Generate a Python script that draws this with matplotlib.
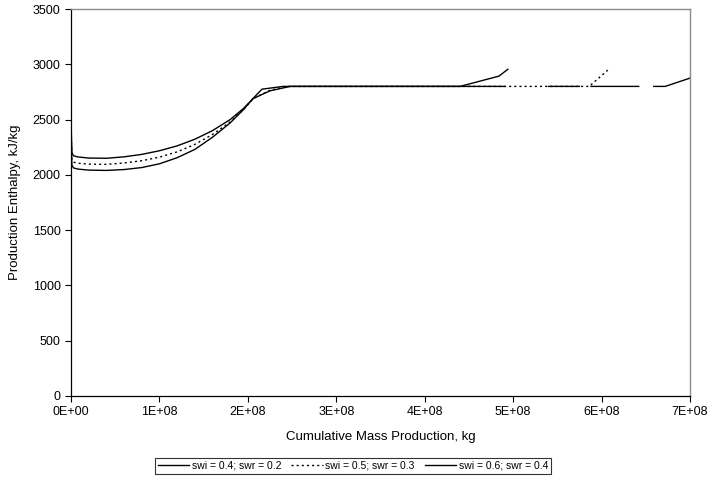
import numpy as np
import matplotlib
matplotlib.use('Agg')
import matplotlib.pyplot as plt
from matplotlib.ticker import FuncFormatter, MultipleLocator

plt.rcParams['font.family'] = ['Liberation Sans', 'DejaVu Sans']

# cumulative mass (units of 1E+08 kg) and production enthalpy (kJ/kg)
mass_04 = [0.0, 0.003, 0.01, 0.03, 0.08, 0.2, 0.4, 0.6, 0.8, 1.0, 1.2, 1.4, 1.6,
           1.8, 1.95, 2.06, 2.25, 2.48, 4.40, 4.84, 4.94]
enth_04 = [1780, 2400, 2195, 2172, 2162, 2152, 2150, 2163, 2185, 2218, 2262, 2322, 2400,
           2500, 2600, 2690, 2760, 2800, 2800, 2893, 2955]

mass_05 = [0.0, 0.003, 0.01, 0.03, 0.08, 0.2, 0.4, 0.6, 0.8, 1.0, 1.2, 1.4, 1.6,
           1.8, 1.95, 2.06, 2.25, 2.45, 5.86, 6.07]
enth_05 = [1800, 2350, 2135, 2115, 2105, 2097, 2095, 2107, 2128, 2160, 2208, 2275, 2365,
           2478, 2590, 2690, 2765, 2800, 2800, 2947]

mass_06 = [0.0, 0.003, 0.01, 0.03, 0.08, 0.2, 0.4, 0.6, 0.8, 1.0, 1.2, 1.4, 1.6,
           1.8, 1.95, 2.06, 2.16, 2.40, 4.90, np.nan, 5.40, 5.75, np.nan,
           5.88, 6.42, np.nan, 6.59, 6.72, 7.00]
enth_06 = [1820, 2300, 2085, 2062, 2052, 2043, 2040, 2048, 2066, 2100, 2155, 2230, 2340,
           2470, 2590, 2692, 2775, 2800, 2800, np.nan, 2800, 2800, np.nan,
           2800, 2800, np.nan, 2800, 2800, 2875]

labels = ['swi = 0.4; swr = 0.2', 'swi = 0.5; swr = 0.3', 'swi = 0.6; swr = 0.4']

fig = plt.figure(figsize=(7.07, 4.79), dpi=100)
ax = fig.add_axes([71/707, 1 - 396/479, 619/707, 387/479])

ax.plot(np.array(mass_04) * 1e8, enth_04, color='black', lw=1.0, label=labels[0])
ax.plot(np.array(mass_05) * 1e8, enth_05, color='black', lw=1.0,
        linestyle=(0, (1.5, 2.2)), label=labels[1])
ax.plot(np.array(mass_06) * 1e8, enth_06, color='black', lw=1.0, label=labels[2])

ax.set_xlim(0, 7e8)
ax.set_ylim(0, 3500)
ax.xaxis.set_major_locator(MultipleLocator(1e8))
ax.yaxis.set_major_locator(MultipleLocator(500))
ax.xaxis.set_major_formatter(FuncFormatter(lambda v, p: f'{int(round(v / 1e8))}E+{0 if v == 0 else 8:02d}'))
ax.tick_params(direction='out', length=4, width=0.8, labelsize=9, colors='black')

for s in ['top', 'right']:
    ax.spines[s].set_color('#8c8c8c')
    ax.spines[s].set_linewidth(1.0)
for s in ['left', 'bottom']:
    ax.spines[s].set_color('black')
    ax.spines[s].set_linewidth(0.9)

ax.set_xlabel('Cumulative Mass Production, kg', fontsize=9.5, labelpad=9)
ax.set_ylabel('Production Enthalpy, kJ/kg', fontsize=9.5, labelpad=8)

leg = fig.legend(loc='center', bbox_to_anchor=(353/707, 1 - 466/479), ncol=3,
                 fontsize=7.5, frameon=True, fancybox=False, edgecolor='black',
                 handlelength=3.0, handletextpad=0.25, columnspacing=1.0,
                 borderpad=0.3)
leg.get_frame().set_linewidth(0.8)

fig.savefig('out.png', dpi=100)
